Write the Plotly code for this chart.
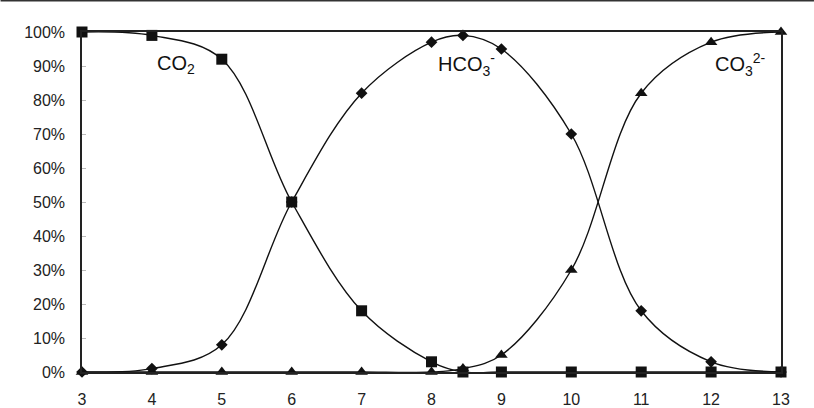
import plotly.graph_objects as go

ph = [3, 4, 5, 6, 7, 8, 8.45, 9, 10, 11, 12, 13]
co2 = [100, 99, 92, 50, 18, 3, 0, 0, 0, 0, 0, 0]
hco3 = [0, 1, 8, 50, 82, 97, 99, 95, 70, 18, 3, 0]
co3 = [0, 0, 0, 0, 0, 0, 1, 5, 30, 82, 97, 100]
x_ticks = [3, 4, 5, 6, 7, 8, 9, 10, 11, 12, 13]
y_ticks = [0, 10, 20, 30, 40, 50, 60, 70, 80, 90, 100]

W, H = 814, 408
L, R, T, B = 81.5, 33, 32, 35.5
plot_w = W - L - R
plot_h = H - T - B

fig = go.Figure()

def add(y, symbol, size):
    fig.add_trace(go.Scatter(
        x=ph, y=y, mode="lines+markers",
        line=dict(color="#111111", width=1.4, shape="spline", smoothing=1.0),
        marker=dict(symbol=symbol, size=size, color="#111111"),
        cliponaxis=False, showlegend=False, hoverinfo="skip"))

add(co3, "triangle-up", 11)
add(hco3, "diamond", 9)
add(co2, "square", 11)

font = "Liberation Sans, Arial, sans-serif"
annos = [
    dict(x=4.05, y=90.3, text="CO<sub>2</sub>"),
    dict(x=8.07, y=90.3, text="HCO<sub>3</sub><sup>-</sup>"),
    dict(x=12.03, y=90.3, text="CO<sub>3</sub><sup>2-</sup>"),
]
for a in annos:
    a.update(xref="x", yref="y", xanchor="left", yanchor="middle", showarrow=False,
             font=dict(family=font, size=20, color="#111111"))

fig.update_layout(
    width=W, height=H,
    margin=dict(l=L, r=R, t=T, b=B, pad=0, autoexpand=False),
    paper_bgcolor="white", plot_bgcolor="white",
    font=dict(family=font, size=16, color="#222222"),
    annotations=annos,
    xaxis=dict(range=[3, 13], tickvals=x_ticks, ticktext=[str(v) for v in x_ticks],
               showgrid=False, zeroline=False, showline=True, mirror=True,
               linecolor="#222222", linewidth=1.5, ticks="", ticklabelstandoff=12,
               automargin=False, fixedrange=True),
    yaxis=dict(range=[0, 100], tickvals=y_ticks, ticktext=[f"{v}%" for v in y_ticks],
               showgrid=False, zeroline=False, showline=True, mirror=True,
               linecolor="#222222", linewidth=1.5, ticks="inside", ticklen=4,
               tickcolor="#bbbbbb", tickwidth=1, ticklabelstandoff=12,
               automargin=False, fixedrange=True),
    shapes=[dict(type="line", xref="paper", yref="paper",
                 x0=-L / plot_w, x1=1 + R / plot_w,
                 y0=(H - B - 0.8) / plot_h, y1=(H - B - 0.8) / plot_h,
                 line=dict(color="#333333", width=1.5))],
)

fig.write_html("out.html", config={"displayModeBar": False},
               post_script="document.body.style.margin='0';")
